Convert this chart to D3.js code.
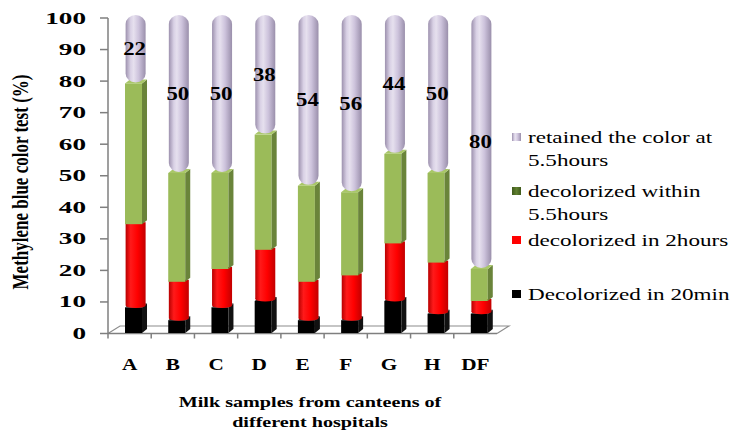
<!DOCTYPE html>
<html><head><meta charset="utf-8">
<script src="https://cdn.jsdelivr.net/npm/d3@7"></script>
<style>body{margin:0;background:#fff}svg{display:block}</style>
</head><body><svg id="c" width="732" height="432"></svg>
<script>
// ---- data ----
const categories = ["A","B","C","D","E","F","G","H","DF"];
const decol20min = [8,4,8,10,4,4,10,6,6];
const decol2h    = [26,12,12,16,12,14,18,16,4];
const decolWithin= [44,34,30,36,30,26,28,28,10];
const retained   = [22,50,50,38,54,56,44,50,80];
const yTickValues = [0,10,20,30,40,50,60,70,80,90,100];
const legendLabels = [
  ["retained the color at","5.5hours"],
  ["decolorized within","5.5hours"],
  ["decolorized in 2hours"],
  ["Decolorized in 20min"]
];
const yTitle = "Methylene blue color test (%)";
const xTitle = ["Milk samples from canteens of","different hospitals"];

// ---- setup ----
const svg = d3.select("#c");
const FONT = "'Liberation Serif','Times New Roman',serif";
const defs = svg.append("defs");
function hGrad(id, stops){
  const g = defs.append("linearGradient").attr("id",id).attr("x1","0").attr("x2","1").attr("y1","0").attr("y2","0");
  stops.forEach(s=>g.append("stop").attr("offset",s[0]).attr("stop-color",s[1]));
}
hGrad("gPurple",[[0,"#9d91ae"],[0.25,"#d9d1e5"],[0.4,"#e6e0ee"],[0.65,"#cdc3dc"],[1,"#9a8fab"]]);
hGrad("gRed",[[0,"#b80000"],[0.25,"#ff1a1a"],[0.6,"#ff0000"],[1,"#c20000"]]);
hGrad("gLegGreen",[[0,"#3f5a1c"],[0.5,"#5f7f2f"],[1,"#3f5a1c"]]);

const x = d3.scaleBand().domain(categories).range([108,497]).paddingInner(0).paddingOuter(0);
const yAxisScale = d3.scaleLinear().domain([0,100]).range([333.5,18]);
// projected scale for bars standing at mid depth of the 3D floor
const yBar = d3.scaleLinear().domain([0,100]).range([333,13]);

function stext(g, str, px, py, o){
  return g.append("text")
    .attr("transform", `translate(${px},${py}) scale(${o.sx||1},1)` + (o.rot?` rotate(${o.rot})`:""))
    .attr("text-anchor", o.anchor||"start")
    .attr("font-family", FONT)
    .attr("font-size", o.size)
    .attr("font-weight", o.bold?"bold":"normal")
    .attr("fill","#000")
    .text(str);
}

// ---- floor ----
const DX = 12, DY = -7.5;
const x0 = x.range()[0], x1 = x.range()[1];
const floor = svg.append("g").attr("fill","none").attr("stroke","#8c8c8c").attr("stroke-width",1.2);
floor.append("path").attr("d",`M${x0},${yAxisScale(0)} L${x0+DX},${yAxisScale(0)+DY} L${x1+DX},${yAxisScale(0)+DY} L${x1},${yAxisScale(0)}`);
floor.append("line").attr("x1",x0).attr("x2",x1).attr("y1",yAxisScale(0)).attr("y2",yAxisScale(0)).attr("stroke","#7f7f7f").attr("stroke-width",1.5);
categories.forEach((c,i)=>{
  if(i===0) return;
  floor.append("line").attr("x1",x(c)).attr("x2",x(c)).attr("y1",yAxisScale(0)).attr("y2",yAxisScale(0)+5).attr("stroke","#7f7f7f").attr("stroke-width",1.5);
});

// ---- y axis ----
const ya = svg.append("g");
ya.append("line").attr("x1",108).attr("x2",108).attr("y1",yAxisScale(100)).attr("y2",yAxisScale(0)+5).attr("stroke","#7f7f7f").attr("stroke-width",1.5);
yTickValues.forEach(v=>{
  ya.append("line").attr("x1",100).attr("x2",108).attr("y1",yAxisScale(v)).attr("y2",yAxisScale(v)).attr("stroke","#7f7f7f").attr("stroke-width",1.5);
  stext(ya, String(v), 86, yAxisScale(v)+5.5, {size:16, bold:true, sx:1.7, anchor:"end"});
});

// ---- bars ----
const bars = svg.append("g");
const PW = 17, SD = 5, SDY = -4, R = 10;
function prism(g, left, v0, v1, cFront, cSide, cTop){
  const yb = yBar(v0), yt = yBar(v1), right = left+PW;
  g.append("rect").attr("x",left).attr("y",yt).attr("width",PW).attr("height",yb-yt).attr("fill",cFront);
  g.append("path").attr("d",`M${right},${yb} L${right+SD},${yb+SDY} L${right+SD},${yt+SDY} L${right},${yt}Z`).attr("fill",cSide);
  g.append("path").attr("d",`M${left},${yt} L${right},${yt} L${right+SD},${yt+SDY} L${left+SD},${yt+SDY}Z`).attr("fill",cTop);
}
categories.forEach((c,i)=>{
  const g = bars.append("g");
  const cx0 = x(c) + x.bandwidth()/2;
  const left = cx0 - 4.6;
  const cc = cx0 + 6;
  const b = decol20min[i], r = decol2h[i], gr = decolWithin[i], p = retained[i];
  const t1 = b, t2 = b+r, t3 = b+r+gr, t4 = t3+p;
  // black prism
  prism(g, left, 0, t1, "#000", "#111", "#262626");
  // red cylinder
  const rb = yBar(t1)-2, rt = yBar(t2)-2;
  g.append("rect").attr("x",cc-R).attr("y",rt).attr("width",2*R).attr("height",rb-rt).attr("fill","url(#gRed)");
  g.append("ellipse").attr("cx",cc).attr("cy",rb).attr("rx",R).attr("ry",2.5).attr("fill","url(#gRed)");
  // green prism
  prism(g, left, t2, t3, "#9bbb59", "#6a843a", "#a9c768");
  // purple capsule
  const pb = yBar(t3)-1, pt = yBar(t4)+2;
  g.append("rect").attr("x",cc-R).attr("y",pt).attr("width",2*R).attr("height",pb-pt).attr("rx",R).attr("ry",9).attr("fill","url(#gPurple)");
  // label
  stext(g, String(p), cc-1, yBar(t3 + p/2)+7, {size:19, bold:true, sx:1.2, anchor:"middle"});
  // category label
  stext(svg, c, cx0, 370, {size:17, bold:true, sx:1.25, anchor:"middle"});
});

// ---- titles ----
stext(svg, yTitle, 28, 182, {size:17, bold:true, sx:1.35, rot:-90, anchor:"middle"});
stext(svg, xTitle[0], 310, 407, {size:15.5, bold:true, sx:1.3, anchor:"middle"});
stext(svg, xTitle[1], 310, 427, {size:15.5, bold:true, sx:1.3, anchor:"middle"});

// ---- legend ----
const legFills = ["url(#gPurple)","url(#gLegGreen)","#ff0000","#000"];
const legBase = [143,197,246,300];
const leg = svg.append("g");
legendLabels.forEach((lines,i)=>{
  leg.append("rect").attr("x",512).attr("y",legBase[i]-10).attr("width",9).attr("height",8).attr("fill",legFills[i]);
  lines.forEach((ln,j)=>{
    stext(leg, ln, 528, legBase[i]+j*23, {size:17, sx:1.36});
  });
});
</script></body></html>
